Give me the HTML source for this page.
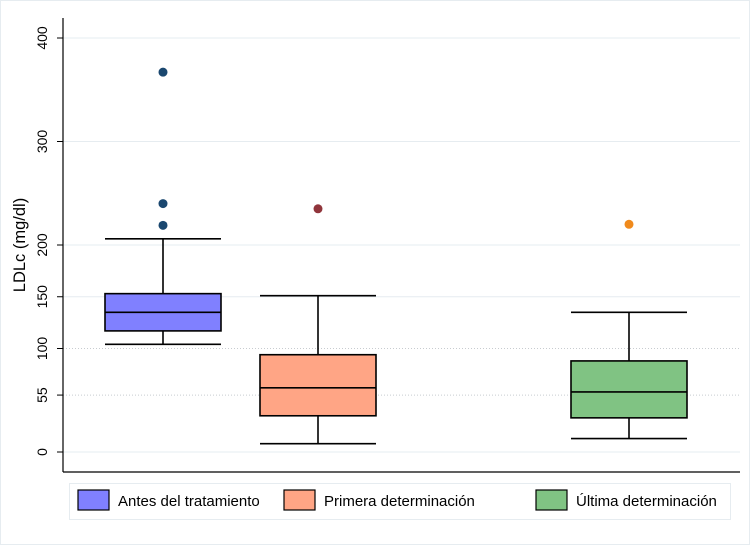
<!DOCTYPE html>
<html><head><meta charset="utf-8"><style>
body{margin:0;background:#fff}
svg{display:block;font-family:"Liberation Sans",sans-serif}
</style></head><body>
<svg id="c" width="750" height="545" viewBox="0 0 750 545">
<rect x="0.5" y="0.5" width="749" height="544" fill="#fff" stroke="#e6ecf0"/>
<g id="grid"></g>
<line x1="63" y1="18" x2="63" y2="472" stroke="#000" stroke-width="1.2"/>
<line x1="63" y1="472" x2="740" y2="472" stroke="#000" stroke-width="1.2"/>
<text transform="translate(25,245) rotate(-90)" text-anchor="middle" font-size="16.5">LDLc (mg/dl)</text>
<g id="boxes"></g>
<g>
<rect x="69.5" y="483.5" width="661" height="36" fill="#fff" stroke="#e6ecf0"/>
<rect x="78" y="490" width="31" height="20" fill="#8080ff" stroke="#000" stroke-width="1.2"/>
<text x="118" y="506" font-size="15">Antes del tratamiento</text>
<rect x="284" y="490" width="31" height="20" fill="#ffa585" stroke="#000" stroke-width="1.2"/>
<text x="324" y="506" font-size="15">Primera determinación</text>
<rect x="536" y="490" width="31" height="20" fill="#80c383" stroke="#000" stroke-width="1.2"/>
<text x="576" y="506" font-size="15">Última determinación</text>
</g>
</svg>
<script>
const ticks=[0,55,100,150,200,300,400];
const dottedTicks=[55,100];
const groups=["Antes del tratamiento","Primera determinación","Última determinación"];
const q1=[117,35,33];
const med=[135,62,58];
const q3=[153,94,88];
const whiskLo=[104,8,13];
const whiskHi=[206,151,135];
const outliers=[[367,240,219],[235],[220]];
const centers=[163,318,629];
const fills=["#8080ff","#ffa585","#80c383"];
const dotCols=["#1a476f","#90353b","#f08a1c"];
const NS="http://www.w3.org/2000/svg";
function y(v){return 452-v*1.035;}
function mk(t,a,p){const e=document.createElementNS(NS,t);for(const k in a)e.setAttribute(k,a[k]);p.appendChild(e);return e;}
const grid=document.getElementById('grid');
ticks.forEach(t=>{
  const l=mk('line',{x1:63,x2:740,y1:y(t),y2:y(t),stroke:dottedTicks.includes(t)?'#c8ccd0':'#e6ecf0','stroke-width':1},grid);
  if(dottedTicks.includes(t))l.setAttribute('stroke-dasharray','1,2');
  
  
  const tk=mk('line',{x1:57,x2:63,y1:y(t),y2:y(t),stroke:'#000'},grid);
  
  
  const tx=mk('text',{transform:`translate(47,${y(t)}) rotate(-90)`,'text-anchor':'middle','font-size':14},grid);
  tx.textContent=t;
  
  
});
const bx=document.getElementById('boxes');
groups.forEach((g,i)=>{
  const c=centers[i],w=58,cap=58;
  const grp=mk('g',{},bx);
  
  
  const st={stroke:'#000','stroke-width':1.6};
  mk('line',Object.assign({x1:c,x2:c,y1:y(whiskHi[i]),y2:y(q3[i])},st),grp);
  mk('line',Object.assign({x1:c,x2:c,y1:y(q1[i]),y2:y(whiskLo[i])},st),grp);
  mk('line',Object.assign({x1:c-cap,x2:c+cap,y1:y(whiskHi[i]),y2:y(whiskHi[i])},st),grp);
  mk('line',Object.assign({x1:c-cap,x2:c+cap,y1:y(whiskLo[i]),y2:y(whiskLo[i])},st),grp);
  const r=mk('rect',Object.assign({x:c-w,width:2*w,y:y(q3[i]),height:y(q1[i])-y(q3[i]),fill:fills[i]},st),grp);
  
  
  mk('line',Object.assign({x1:c-w,x2:c+w,y1:y(med[i]),y2:y(med[i])},st),grp);
  outliers[i].forEach(o=>{
    const d=mk('circle',{cx:c,cy:y(o),r:4.5,fill:dotCols[i]},grp);
    
    
  });
});
</script>
</body></html>
